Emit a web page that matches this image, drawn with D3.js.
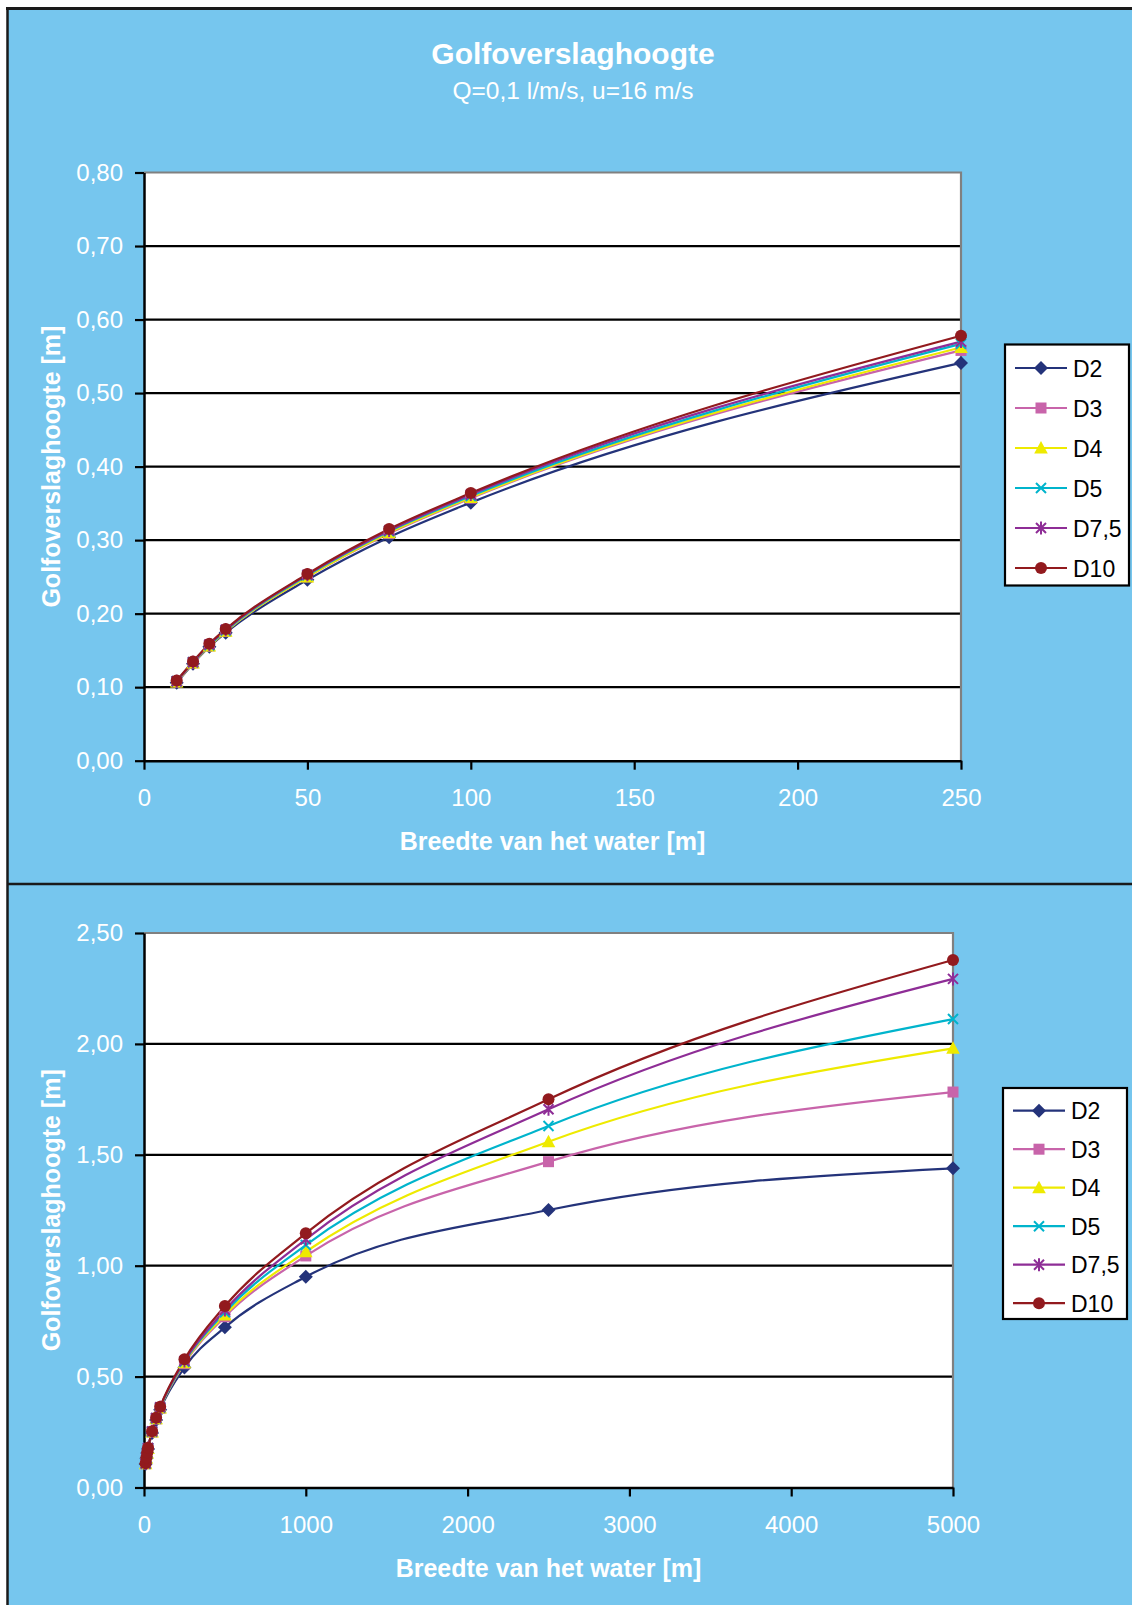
<!DOCTYPE html>
<html>
<head>
<meta charset="utf-8">
<script src="https://cdn.jsdelivr.net/npm/d3@7"></script>
<style>
  html, body { margin: 0; padding: 0; background: #ffffff; }
  svg { display: block; }
  text { font-family: "Liberation Sans", Arial, Helvetica, sans-serif; }
</style>
</head>
<body>
<svg id="chart" width="1132" height="1605"></svg>
<script>
// ---------------- DATA ----------------
const titleText = "Golfoverslaghoogte";
const subtitleText = "Q=0,1 l/m/s, u=16 m/s";
const xTitle = "Breedte van het water [m]";
const yTitle = "Golfoverslaghoogte [m]";

// width of the water [m]
const widths = [10, 15, 20, 25, 50, 75, 100, 250, 500, 1000, 2500, 5000];
const seriesNames = ["D2", "D3", "D4", "D5", "D7,5", "D10"];
const D2  = [0.106, 0.132, 0.155, 0.174, 0.246, 0.304, 0.351, 0.541, 0.722, 0.950, 1.251, 1.439];
const D3  = [0.107, 0.133, 0.156, 0.176, 0.250, 0.309, 0.357, 0.558, 0.770, 1.044, 1.469, 1.783];
const D4  = [0.107, 0.133, 0.156, 0.176, 0.250, 0.310, 0.358, 0.562, 0.778, 1.063, 1.559, 1.980];
const D5  = [0.108, 0.134, 0.157, 0.177, 0.252, 0.312, 0.360, 0.567, 0.790, 1.093, 1.630, 2.112];
const D75 = [0.108, 0.134, 0.158, 0.178, 0.253, 0.313, 0.362, 0.570, 0.800, 1.119, 1.705, 2.293];
const D10 = [0.109, 0.135, 0.159, 0.179, 0.254, 0.315, 0.364, 0.578, 0.818, 1.146, 1.750, 2.378];
const seriesValues = [D2, D3, D4, D5, D75, D10];

// top chart shows widths up to 250 m
const topMaxWidth = 250;

// ticks
const topXTicks = [0, 50, 100, 150, 200, 250];
const topYTicks = [0, 0.1, 0.2, 0.3, 0.4, 0.5, 0.6, 0.7, 0.8];
const botXTicks = [0, 1000, 2000, 3000, 4000, 5000];
const botYTicks = [0, 0.5, 1.0, 1.5, 2.0, 2.5];

// ---------------- STYLE ----------------
const colors  = ["#24337a", "#c864aa", "#eeea00", "#00b4cc", "#8e2d96", "#921a1e"];
const markers = ["diamond", "square", "triangle", "x", "star", "circle"];
const BG = "#76c6ee";

const svg = d3.select("#chart");
const nl = d3.formatLocale({decimal: ",", thousands: ".", grouping: [3], currency: ["", ""]});
const fmtY = nl.format(".2f");
const fmtX = d3.format("d");

// background & frame
svg.append("rect").attr("x", 7).attr("y", 8).attr("width", 1125).attr("height", 1597).attr("fill", BG);
svg.append("line").attr("x1", 6).attr("x2", 1132).attr("y1", 8.5).attr("y2", 8.5).attr("stroke", "#1a1a1a").attr("stroke-width", 3);
svg.append("line").attr("x1", 7.5).attr("x2", 7.5).attr("y1", 7).attr("y2", 1605).attr("stroke", "#1a1a1a").attr("stroke-width", 2.5);
svg.append("line").attr("x1", 7).attr("x2", 1132).attr("y1", 884).attr("y2", 884).attr("stroke", "#1a1a1a").attr("stroke-width", 2.5);

// titles
svg.append("text").attr("x", 573).attr("y", 64).attr("text-anchor", "middle")
  .attr("fill", "#ffffff").attr("font-weight", "bold").attr("font-size", 30).text(titleText);
svg.append("text").attr("x", 573).attr("y", 99).attr("text-anchor", "middle")
  .attr("fill", "#ffffff").attr("font-size", 24.5).text(subtitleText);

function drawMarker(g, type, color) {
  if (type === "diamond") {
    g.append("path").attr("d", "M0,-7L7,0L0,7L-7,0Z").attr("fill", color);
  } else if (type === "square") {
    g.append("rect").attr("x", -5.5).attr("y", -5.5).attr("width", 11).attr("height", 11).attr("fill", color);
  } else if (type === "triangle") {
    g.append("path").attr("d", "M0,-7L6.8,5.5L-6.8,5.5Z").attr("fill", color);
  } else if (type === "x") {
    g.append("path").attr("d", "M-5,-5L5,5M-5,5L5,-5").attr("stroke", color).attr("stroke-width", 2).attr("fill", "none");
  } else if (type === "star") {
    g.append("path").attr("d", "M-5,-5L5,5M-5,5L5,-5M0,-6.5L0,6.5").attr("stroke", color).attr("stroke-width", 2).attr("fill", "none");
  } else if (type === "circle") {
    g.append("circle").attr("r", 6).attr("fill", color);
  }
}

function drawChart(cfg) {
  const {left, right, top, bottom, xMax, yMax, xTicks, yTicks, count, legend, xTitleY} = cfg;
  const x = d3.scaleLinear().domain([0, xMax]).range([left, right]);
  const y = d3.scaleLinear().domain([0, yMax]).range([bottom, top]);
  const g = svg.append("g");

  // plot area
  g.append("rect").attr("x", left).attr("y", top).attr("width", right - left).attr("height", bottom - top).attr("fill", "#ffffff");

  // gridlines
  g.selectAll(".grid").data(yTicks.filter(v => v > 0 && v < yMax)).enter().append("line")
    .attr("x1", left).attr("x2", right).attr("y1", d => y(d)).attr("y2", d => y(d))
    .attr("stroke", "#000").attr("stroke-width", 2.2);

  // gray top / right border
  g.append("path").attr("d", `M${left},${top}H${right}V${bottom}`).attr("fill", "none")
    .attr("stroke", "#808080").attr("stroke-width", 2.2);

  // axes
  const ax = g.append("g").attr("transform", `translate(0,${bottom})`)
    .call(d3.axisBottom(x).tickValues(xTicks).tickFormat(fmtX).tickSize(9).tickSizeOuter(0).tickPadding(19));
  const ay = g.append("g").attr("transform", `translate(${left},0)`)
    .call(d3.axisLeft(y).tickValues(yTicks).tickFormat(fmtY).tickSize(9).tickSizeOuter(0).tickPadding(12));
  [ax, ay].forEach(a => {
    a.select(".domain").attr("stroke", "#000").attr("stroke-width", 2.5);
    a.selectAll(".tick line").attr("stroke", "#000").attr("stroke-width", 2.2);
    a.selectAll(".tick text").attr("fill", "#ffffff").attr("font-size", 24)
      .attr("font-family", "'Liberation Sans', Arial, sans-serif");
  });

  // axis titles
  svg.append("text").attr("x", (left + right) / 2).attr("y", xTitleY).attr("text-anchor", "middle")
    .attr("fill", "#fff").attr("font-weight", "bold").attr("font-size", 25).text(xTitle);
  svg.append("text").attr("transform", `translate(60,${(top + bottom) / 2}) rotate(-90)`)
    .attr("text-anchor", "middle").attr("fill", "#fff").attr("font-weight", "bold").attr("font-size", 25).text(yTitle);

  // series
  const line = d3.line().x(d => x(d[0])).y(d => y(d[1])).curve(d3.curveMonotoneX);
  seriesValues.forEach((vals, i) => {
    const pts = widths.slice(0, count).map((w, j) => [w, vals[j]]);
    g.append("path").datum(pts).attr("d", line).attr("fill", "none")
      .attr("stroke", colors[i]).attr("stroke-width", 2.2);
  });
  seriesValues.forEach((vals, i) => {
    const pts = widths.slice(0, count).map((w, j) => [w, vals[j]]);
    pts.forEach(p => {
      const mg = g.append("g").attr("transform", `translate(${x(p[0])},${y(p[1])})`);
      drawMarker(mg, markers[i], colors[i]);
    });
  });

  // legend
  const lg = svg.append("g");
  lg.append("rect").attr("x", legend.x).attr("y", legend.y).attr("width", legend.w).attr("height", legend.h)
    .attr("fill", "#fff").attr("stroke", "#000").attr("stroke-width", 2.2);
  seriesNames.forEach((name, i) => {
    const cy = legend.first + i * legend.step;
    lg.append("line").attr("x1", legend.x + 10).attr("x2", legend.x + 62).attr("y1", cy).attr("y2", cy)
      .attr("stroke", colors[i]).attr("stroke-width", 2.2);
    const mg = lg.append("g").attr("transform", `translate(${legend.x + 36},${cy})`);
    drawMarker(mg, markers[i], colors[i]);
    lg.append("text").attr("x", legend.x + 68).attr("y", cy + 8.5).attr("fill", "#000")
      .attr("font-size", 23).text(name);
  });
}

// top chart
drawChart({
  left: 144, right: 961, top: 172.5, bottom: 760.7,
  xMax: 250, yMax: 0.8, xTicks: topXTicks, yTicks: topYTicks,
  count: widths.filter(w => w <= topMaxWidth).length,
  xTitleY: 850,
  legend: {x: 1005, y: 344.5, w: 124, h: 241, first: 368, step: 40}
});

// bottom chart
drawChart({
  left: 144, right: 953, top: 933, bottom: 1487.5,
  xMax: 5000, yMax: 2.5, xTicks: botXTicks, yTicks: botYTicks,
  count: widths.length,
  xTitleY: 1577,
  legend: {x: 1003, y: 1088, w: 124, h: 231, first: 1110.7, step: 38.5}
});
</script>
</body>
</html>
